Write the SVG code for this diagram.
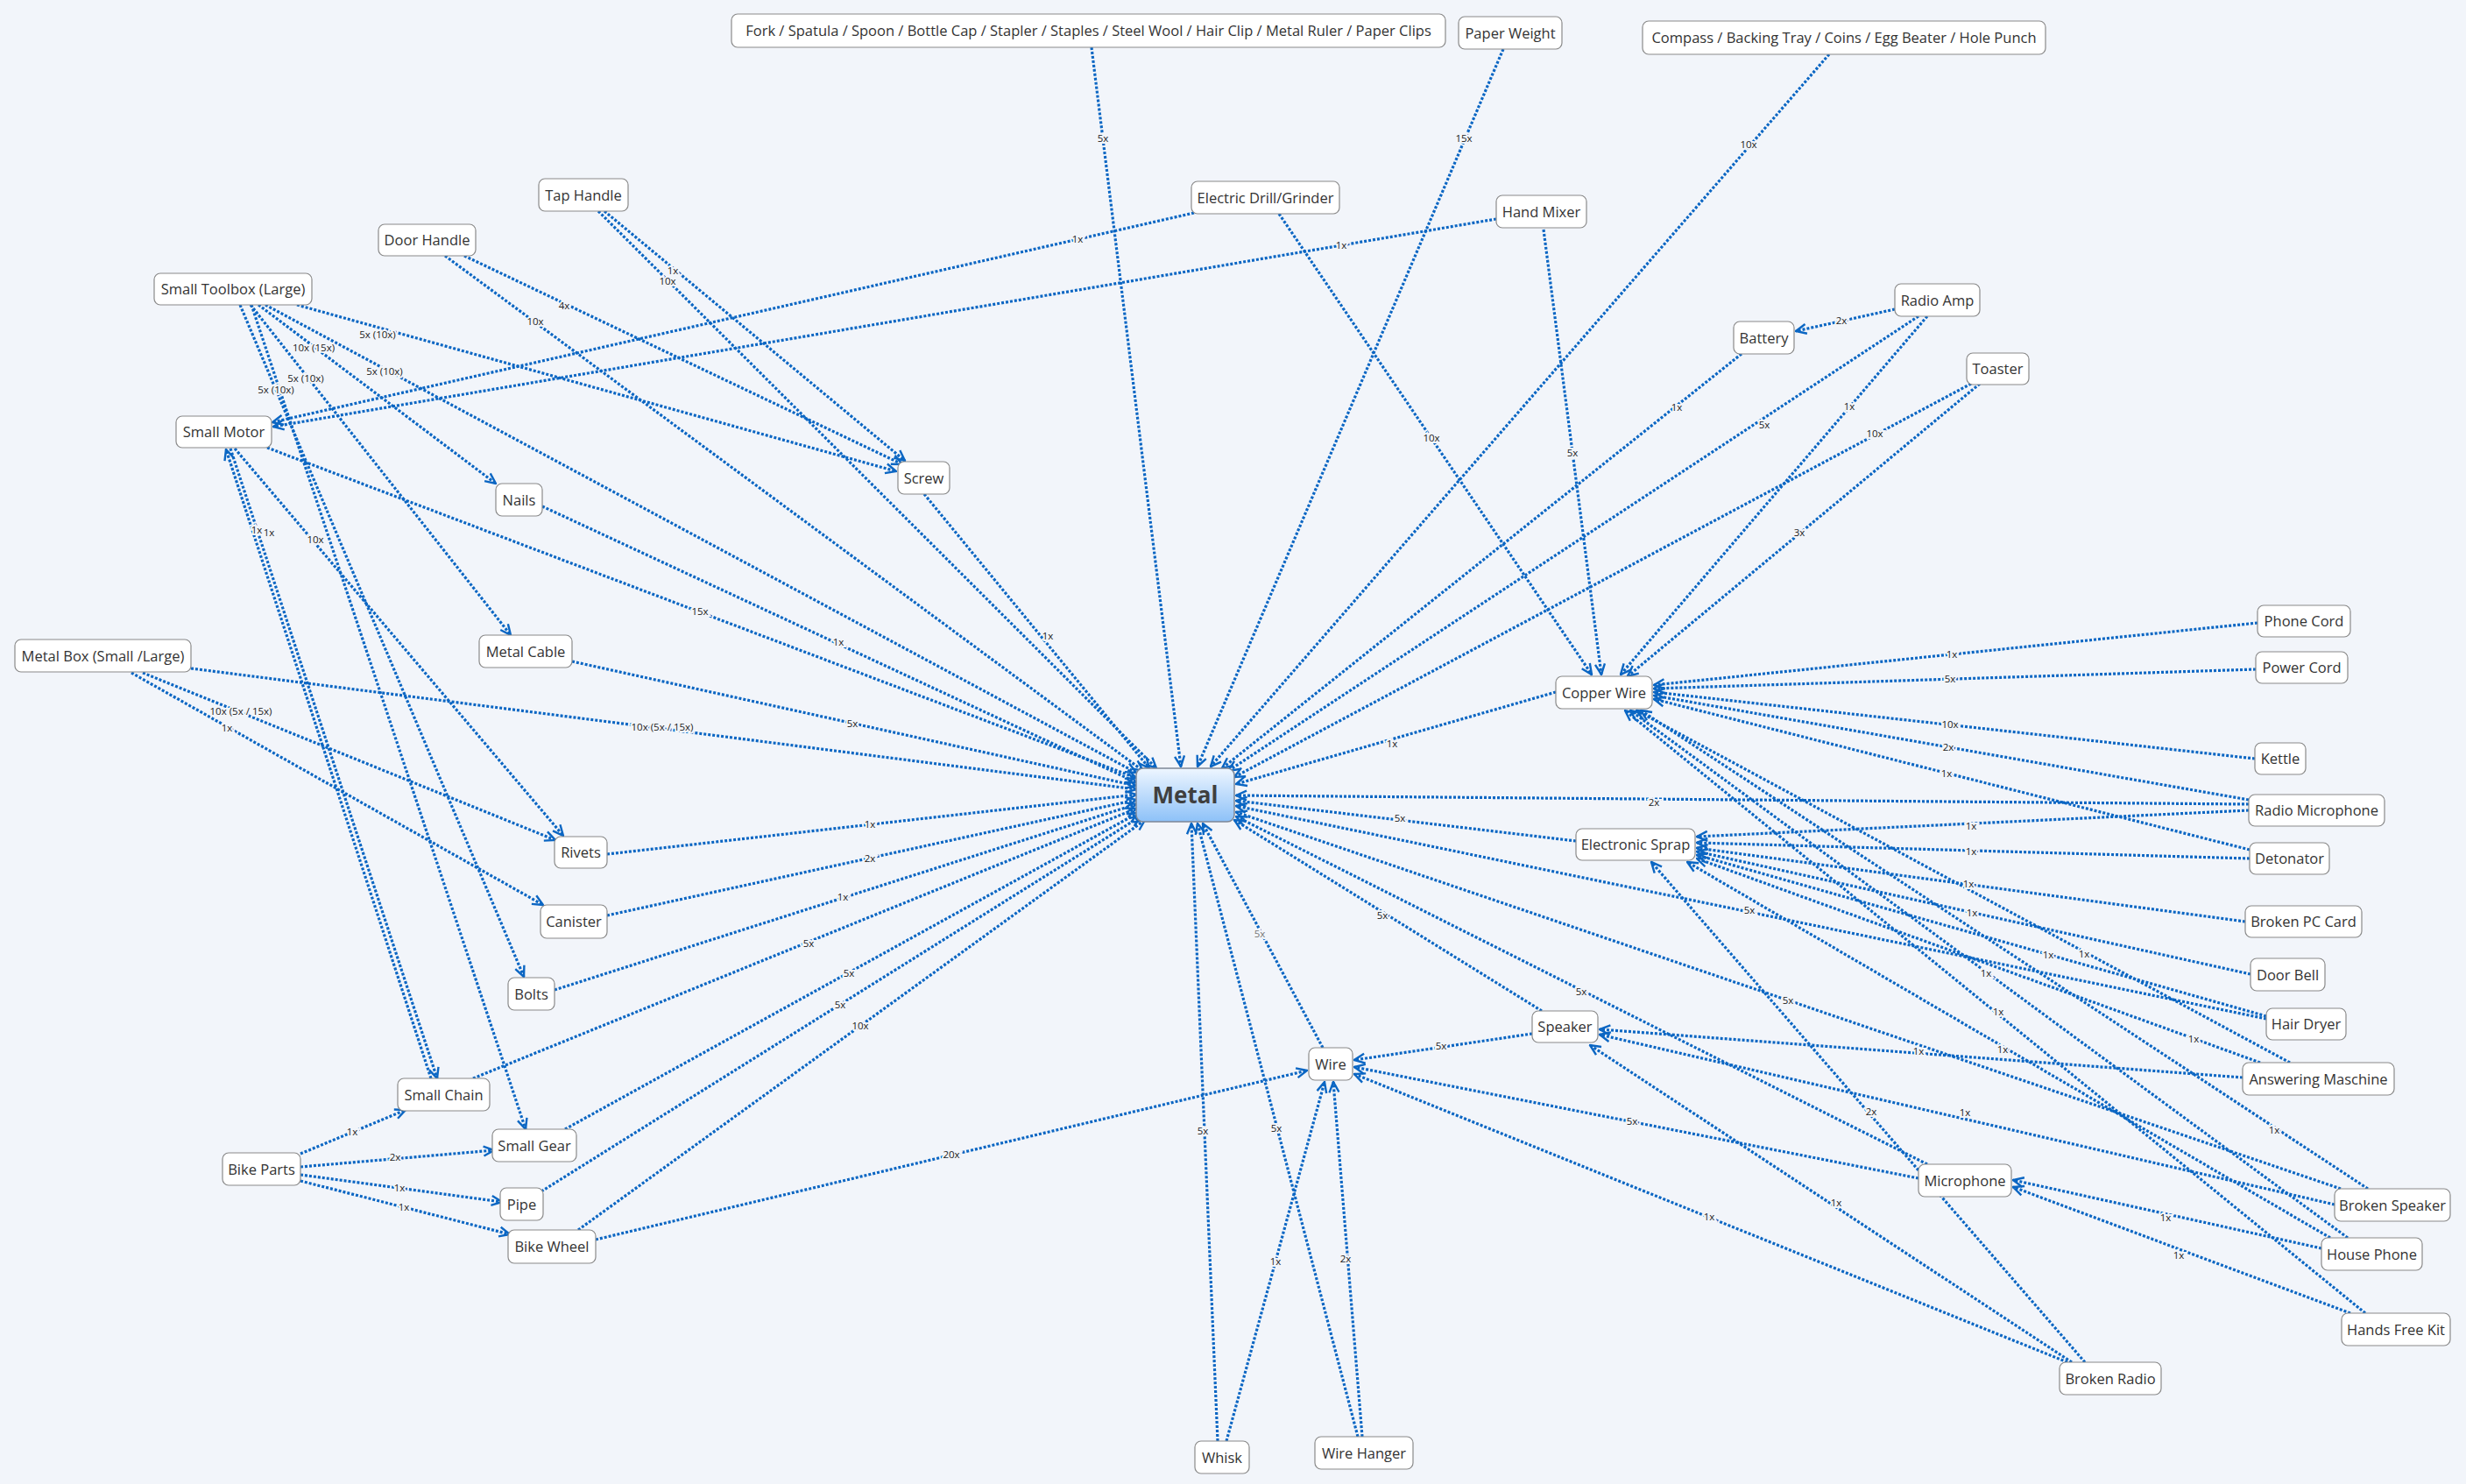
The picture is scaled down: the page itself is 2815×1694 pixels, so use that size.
<svg xmlns="http://www.w3.org/2000/svg" width="2815" height="1694" viewBox="0 0 2815 1694">
<defs>
<style>
.n rect{fill:#ffffff;stroke:#8a8a8a;stroke-width:1.2}
.n text{font-family:"Open Sans","Liberation Sans",sans-serif;font-size:16.5px;fill:#333;text-anchor:middle}
.c line{stroke:#0b66c3;stroke-width:3.2;stroke-dasharray:3 2;fill:none}
.l{font-family:"Open Sans","Liberation Sans",sans-serif;font-size:11.5px;fill:#222;text-anchor:middle;stroke:#f2f5fa;stroke-width:4;paint-order:stroke}
</style>
<linearGradient id="g" x1="0" y1="0" x2="0" y2="1">
<stop offset="0" stop-color="#eef6ff"/>
<stop offset="1" stop-color="#8dc1f8"/>
</linearGradient>
<marker id="a" viewBox="0 0 14 14" refX="13" refY="7" markerWidth="14" markerHeight="14" markerUnits="userSpaceOnUse" orient="auto">
<path d="M1,1.5 L13,7 L1,12.5" fill="none" stroke="#0b66c3" stroke-width="2.4"/>
</marker>
</defs>
<rect x="0" y="0" width="2815" height="1694" fill="#f2f5fa"/>

<g id="connectors" class="c" marker-end="url(#a)">
<line x1="1246" y1="54" x2="1348" y2="875"/>
<line x1="1716" y1="56" x2="1367" y2="875"/>
<line x1="2088" y1="62" x2="1382" y2="875"/>
<line x1="1988" y1="404" x2="1395" y2="877"/>
<line x1="2190" y1="361" x2="1402" y2="880"/>
<line x1="2250" y1="438" x2="1409" y2="887"/>
<line x1="1776" y1="790" x2="1411" y2="895"/>
<line x1="2567" y1="918" x2="1411" y2="908"/>
<line x1="1799" y1="960" x2="1411" y2="914"/>
<line x1="2587" y1="1163" x2="1411" y2="920"/>
<line x1="2672" y1="1357" x2="1411" y2="927"/>
<line x1="2200" y1="1329" x2="1411" y2="932"/>
<line x1="1760" y1="1154" x2="1409" y2="936"/>
<line x1="1510" y1="1196" x2="1373" y2="940"/>
<line x1="1390" y1="1645" x2="1360" y2="940"/>
<line x1="1550" y1="1640" x2="1367" y2="940"/>
<line x1="1055" y1="564" x2="1312" y2="877"/>
<line x1="683" y1="241" x2="1320" y2="877"/>
<line x1="508" y1="292" x2="1305" y2="880"/>
<line x1="303" y1="348" x2="1297" y2="882"/>
<line x1="305" y1="511" x2="1297" y2="888"/>
<line x1="619" y1="578" x2="1297" y2="893"/>
<line x1="653" y1="755" x2="1297" y2="897"/>
<line x1="218" y1="763" x2="1297" y2="901"/>
<line x1="693" y1="975" x2="1297" y2="907"/>
<line x1="693" y1="1045" x2="1297" y2="913"/>
<line x1="633" y1="1130" x2="1297" y2="918"/>
<line x1="540" y1="1231" x2="1297" y2="923"/>
<line x1="645" y1="1289" x2="1299" y2="928"/>
<line x1="618" y1="1360" x2="1302" y2="932"/>
<line x1="660" y1="1404" x2="1307" y2="936"/>
<line x1="1460" y1="244" x2="1817" y2="770"/>
<line x1="1762" y1="262" x2="1828" y2="770"/>
<line x1="2200" y1="361" x2="1850" y2="770"/>
<line x1="2260" y1="438" x2="1858" y2="772"/>
<line x1="2577" y1="711" x2="1888" y2="782"/>
<line x1="2575" y1="764" x2="1888" y2="786"/>
<line x1="2574" y1="866" x2="1888" y2="790"/>
<line x1="2567" y1="913" x2="1888" y2="794"/>
<line x1="2568" y1="970" x2="1888" y2="798"/>
<line x1="2614" y1="1213" x2="1868" y2="811"/>
<line x1="2680" y1="1413" x2="1861" y2="811"/>
<line x1="2700" y1="1499" x2="1855" y2="811"/>
<line x1="2703" y1="1357" x2="1873" y2="811"/>
<line x1="2567" y1="925" x2="1937" y2="955"/>
<line x1="2568" y1="980" x2="1937" y2="962"/>
<line x1="2563" y1="1052" x2="1937" y2="968"/>
<line x1="2569" y1="1112" x2="1937" y2="972"/>
<line x1="2587" y1="1160" x2="1937" y2="976"/>
<line x1="2580" y1="1213" x2="1937" y2="980"/>
<line x1="2660" y1="1413" x2="1926" y2="984"/>
<line x1="2380" y1="1555" x2="1885" y2="984"/>
<line x1="2560" y1="1230" x2="1826" y2="1175"/>
<line x1="2665" y1="1375" x2="1826" y2="1181"/>
<line x1="2365" y1="1555" x2="1815" y2="1193"/>
<line x1="1749" y1="1180" x2="1546" y2="1210"/>
<line x1="2650" y1="1425" x2="2298" y2="1347"/>
<line x1="2683" y1="1499" x2="2298" y2="1355"/>
<line x1="2190" y1="1345" x2="1546" y2="1218"/>
<line x1="2360" y1="1555" x2="1546" y2="1226"/>
<line x1="680" y1="1415" x2="1492" y2="1222"/>
<line x1="1400" y1="1645" x2="1512" y2="1235"/>
<line x1="1555" y1="1640" x2="1522" y2="1235"/>
<line x1="1363" y1="243" x2="311" y2="482"/>
<line x1="1708" y1="250" x2="312" y2="487"/>
<line x1="690" y1="241" x2="1033" y2="526"/>
<line x1="530" y1="292" x2="1030" y2="530"/>
<line x1="339" y1="348" x2="1023" y2="538"/>
<line x1="295" y1="348" x2="566" y2="552"/>
<line x1="286" y1="348" x2="583" y2="725"/>
<line x1="287" y1="348" x2="600" y2="1289"/>
<line x1="274" y1="348" x2="598" y2="1115"/>
<line x1="268" y1="512" x2="643" y2="954"/>
<line x1="263" y1="512" x2="499" y2="1231"/>
<line x1="492" y1="1231" x2="258" y2="513"/>
<line x1="163" y1="768" x2="634" y2="959"/>
<line x1="150" y1="768" x2="620" y2="1033"/>
<line x1="343" y1="1317" x2="463" y2="1267"/>
<line x1="343" y1="1332" x2="564" y2="1313"/>
<line x1="343" y1="1341" x2="573" y2="1372"/>
<line x1="343" y1="1348" x2="582" y2="1409"/>
<line x1="2163" y1="353" x2="2050" y2="378"/>
</g>

<g id="labels">
<text class="l" x="1259" y="162">5x</text>
<text class="l" x="1671" y="162">15x</text>
<text class="l" x="1996" y="169">10x</text>
<text class="l" x="1914" y="469">1x</text>
<text class="l" x="2014" y="489">5x</text>
<text class="l" x="2140" y="499">10x</text>
<text class="l" x="1589" y="853">1x</text>
<text class="l" x="1888" y="920">2x</text>
<text class="l" x="1598" y="938">5x</text>
<text class="l" x="1997" y="1043">5x</text>
<text class="l" x="2041" y="1146">5x</text>
<text class="l" x="1805" y="1136">5x</text>
<text class="l" x="1578" y="1049">5x</text>
<text class="l" x="1438" y="1070" style="fill:#777">5x</text>
<text class="l" x="1373" y="1295">5x</text>
<text class="l" x="1457" y="1292">5x</text>
<text class="l" x="1196" y="730">1x</text>
<text class="l" x="762" y="325">10x</text>
<text class="l" x="611" y="371">10x</text>
<text class="l" x="439" y="428">5x (10x)</text>
<text class="l" x="799" y="702">15x</text>
<text class="l" x="957" y="737">1x</text>
<text class="l" x="973" y="830">5x</text>
<text class="l" x="756" y="834">10x (5x / 15x)</text>
<text class="l" x="993" y="945">1x</text>
<text class="l" x="993" y="984">2x</text>
<text class="l" x="962" y="1028">1x</text>
<text class="l" x="923" y="1081">5x</text>
<text class="l" x="969" y="1115">5x</text>
<text class="l" x="959" y="1151">5x</text>
<text class="l" x="982" y="1175">10x</text>
<text class="l" x="1634" y="504">10x</text>
<text class="l" x="1795" y="521">5x</text>
<text class="l" x="2111" y="468">1x</text>
<text class="l" x="2054" y="612">3x</text>
<text class="l" x="2228" y="751">1x</text>
<text class="l" x="2226" y="779">5x</text>
<text class="l" x="2226" y="831">10x</text>
<text class="l" x="2224" y="857">2x</text>
<text class="l" x="2222" y="887">1x</text>
<text class="l" x="2379" y="1093">1x</text>
<text class="l" x="2267" y="1115">1x</text>
<text class="l" x="2281" y="1159">1x</text>
<text class="l" x="2596" y="1294">1x</text>
<text class="l" x="2250" y="947">1x</text>
<text class="l" x="2250" y="976">1x</text>
<text class="l" x="2247" y="1013">1x</text>
<text class="l" x="2251" y="1046">1x</text>
<text class="l" x="2338" y="1094">1x</text>
<text class="l" x="2504" y="1190">1x</text>
<text class="l" x="2286" y="1202">1x</text>
<text class="l" x="2136" y="1273">2x</text>
<text class="l" x="2190" y="1204">1x</text>
<text class="l" x="2243" y="1274">1x</text>
<text class="l" x="2096" y="1377">1x</text>
<text class="l" x="1645" y="1198">5x</text>
<text class="l" x="2472" y="1394">1x</text>
<text class="l" x="2487" y="1437">1x</text>
<text class="l" x="1863" y="1284">5x</text>
<text class="l" x="1951" y="1393">1x</text>
<text class="l" x="1086" y="1322">20x</text>
<text class="l" x="1456" y="1444">1x</text>
<text class="l" x="1536" y="1441">2x</text>
<text class="l" x="1230" y="277">1x</text>
<text class="l" x="1531" y="284">1x</text>
<text class="l" x="768" y="313">1x</text>
<text class="l" x="644" y="353">4x</text>
<text class="l" x="431" y="386">5x (10x)</text>
<text class="l" x="358" y="401">10x (15x)</text>
<text class="l" x="349" y="436">5x (10x)</text>
<text class="l" x="315" y="449">5x (10x)</text>
<text class="l" x="360" y="620">10x</text>
<text class="l" x="293" y="609">1x</text>
<text class="l" x="307" y="612">1x</text>
<text class="l" x="275" y="816">10x (5x / 15x)</text>
<text class="l" x="259" y="835">1x</text>
<text class="l" x="402" y="1296">1x</text>
<text class="l" x="451" y="1325">2x</text>
<text class="l" x="456" y="1360">1x</text>
<text class="l" x="461" y="1382">1x</text>
<text class="l" x="2102" y="370">2x</text>
</g>

<g id="n-metal"><rect x="1297" y="877" width="112" height="61" rx="8" fill="url(#g)" stroke="#7d8796" stroke-width="1.5"/><text x="1353" y="917" style="font-family:'Open Sans','Liberation Sans',sans-serif;font-size:26px;font-weight:bold;fill:#3f3f3f;text-anchor:middle">Metal</text></g>
<g id="n-fork" class="n"><rect x="835" y="16" width="815" height="38" rx="7"/><text x="1242.5" y="41">Fork / Spatula / Spoon / Bottle Cap / Stapler / Staples / Steel Wool / Hair Clip / Metal Ruler / Paper Clips</text></g>
<g id="n-paperweight" class="n"><rect x="1665" y="19" width="118" height="37" rx="7"/><text x="1724" y="43.5">Paper Weight</text></g>
<g id="n-compass" class="n"><rect x="1875" y="24" width="460" height="38" rx="7"/><text x="2105" y="49">Compass / Backing Tray / Coins / Egg Beater / Hole Punch</text></g>
<g id="n-taphandle" class="n"><rect x="615" y="204" width="102" height="37" rx="7"/><text x="666" y="228.5">Tap Handle</text></g>
<g id="n-drill" class="n"><rect x="1360" y="207" width="169" height="37" rx="7"/><text x="1444.5" y="231.5">Electric Drill/Grinder</text></g>
<g id="n-handmixer" class="n"><rect x="1708" y="223" width="103" height="37" rx="7"/><text x="1759.5" y="247.5">Hand Mixer</text></g>
<g id="n-doorhandle" class="n"><rect x="432" y="256" width="111" height="36" rx="7"/><text x="487.5" y="280">Door Handle</text></g>
<g id="n-toolbox" class="n"><rect x="176" y="312" width="180" height="36" rx="7"/><text x="266" y="336">Small Toolbox (Large)</text></g>
<g id="n-radioamp" class="n"><rect x="2163" y="324" width="97" height="37" rx="7"/><text x="2211.5" y="348.5">Radio Amp</text></g>
<g id="n-battery" class="n"><rect x="1979" y="367" width="69" height="37" rx="7"/><text x="2013.5" y="391.5">Battery</text></g>
<g id="n-toaster" class="n"><rect x="2245" y="403" width="71" height="36" rx="7"/><text x="2280.5" y="427">Toaster</text></g>
<g id="n-smallmotor" class="n"><rect x="201" y="475" width="109" height="36" rx="7"/><text x="255.5" y="499">Small Motor</text></g>
<g id="n-screw" class="n"><rect x="1025" y="527" width="59" height="37" rx="7"/><text x="1054.5" y="551.5">Screw</text></g>
<g id="n-nails" class="n"><rect x="566" y="552" width="53" height="37" rx="7"/><text x="592.5" y="576.5">Nails</text></g>
<g id="n-metalcable" class="n"><rect x="547" y="725" width="106" height="37" rx="7"/><text x="600" y="749.5">Metal Cable</text></g>
<g id="n-metalbox" class="n"><rect x="17" y="730" width="201" height="37" rx="7"/><text x="117.5" y="754.5">Metal Box (Small /Large)</text></g>
<g id="n-copperwire" class="n"><rect x="1776" y="772" width="110" height="37" rx="7"/><text x="1831" y="796.5">Copper Wire</text></g>
<g id="n-phonecord" class="n"><rect x="2577" y="691" width="106" height="36" rx="7"/><text x="2630" y="715">Phone Cord</text></g>
<g id="n-powercord" class="n"><rect x="2575" y="744" width="105" height="36" rx="7"/><text x="2627.5" y="768">Power Cord</text></g>
<g id="n-kettle" class="n"><rect x="2574" y="848" width="58" height="36" rx="7"/><text x="2603" y="872">Kettle</text></g>
<g id="n-radiomic" class="n"><rect x="2567" y="907" width="155" height="36" rx="7"/><text x="2644.5" y="931">Radio Microphone</text></g>
<g id="n-esprap" class="n"><rect x="1799" y="946" width="136" height="36" rx="7"/><text x="1867" y="970">Electronic Sprap</text></g>
<g id="n-detonator" class="n"><rect x="2568" y="962" width="91" height="36" rx="7"/><text x="2613.5" y="986">Detonator</text></g>
<g id="n-rivets" class="n"><rect x="633" y="955" width="60" height="36" rx="7"/><text x="663" y="979">Rivets</text></g>
<g id="n-canister" class="n"><rect x="617" y="1033" width="76" height="38" rx="7"/><text x="655" y="1058">Canister</text></g>
<g id="n-pccard" class="n"><rect x="2563" y="1034" width="133" height="36" rx="7"/><text x="2629.5" y="1058">Broken PC Card</text></g>
<g id="n-doorbell" class="n"><rect x="2569" y="1094" width="85" height="37" rx="7"/><text x="2611.5" y="1118.5">Door Bell</text></g>
<g id="n-bolts" class="n"><rect x="580" y="1116" width="53" height="37" rx="7"/><text x="606.5" y="1140.5">Bolts</text></g>
<g id="n-hairdryer" class="n"><rect x="2587" y="1151" width="91" height="36" rx="7"/><text x="2632.5" y="1175">Hair Dryer</text></g>
<g id="n-speaker" class="n"><rect x="1749" y="1154" width="75" height="36" rx="7"/><text x="1786.5" y="1178">Speaker</text></g>
<g id="n-wire" class="n"><rect x="1494" y="1196" width="50" height="37" rx="7"/><text x="1519" y="1220.5">Wire</text></g>
<g id="n-answering" class="n"><rect x="2560" y="1213" width="173" height="37" rx="7"/><text x="2646.5" y="1237.5">Answering Maschine</text></g>
<g id="n-smallchain" class="n"><rect x="454" y="1231" width="105" height="37" rx="7"/><text x="506.5" y="1255.5">Small Chain</text></g>
<g id="n-smallgear" class="n"><rect x="562" y="1289" width="96" height="37" rx="7"/><text x="610" y="1313.5">Small Gear</text></g>
<g id="n-bikeparts" class="n"><rect x="254" y="1316" width="89" height="37" rx="7"/><text x="298.5" y="1340.5">Bike Parts</text></g>
<g id="n-microphone" class="n"><rect x="2190" y="1329" width="106" height="37" rx="7"/><text x="2243" y="1353.5">Microphone</text></g>
<g id="n-pipe" class="n"><rect x="571" y="1356" width="49" height="37" rx="7"/><text x="595.5" y="1380.5">Pipe</text></g>
<g id="n-brokenspeaker" class="n"><rect x="2665" y="1357" width="132" height="37" rx="7"/><text x="2731" y="1381.5">Broken Speaker</text></g>
<g id="n-bikewheel" class="n"><rect x="580" y="1404" width="100" height="38" rx="7"/><text x="630" y="1429">Bike Wheel</text></g>
<g id="n-housephone" class="n"><rect x="2650" y="1413" width="115" height="37" rx="7"/><text x="2707.5" y="1437.5">House Phone</text></g>
<g id="n-handsfree" class="n"><rect x="2673" y="1499" width="124" height="37" rx="7"/><text x="2735" y="1523.5">Hands Free Kit</text></g>
<g id="n-brokenradio" class="n"><rect x="2351" y="1555" width="116" height="37" rx="7"/><text x="2409" y="1579.5">Broken Radio</text></g>
<g id="n-wirehanger" class="n"><rect x="1501" y="1640" width="112" height="37" rx="7"/><text x="1557" y="1664.5">Wire Hanger</text></g>
<g id="n-whisk" class="n"><rect x="1364" y="1645" width="62" height="37" rx="7"/><text x="1395" y="1669.5">Whisk</text></g>
</svg>
